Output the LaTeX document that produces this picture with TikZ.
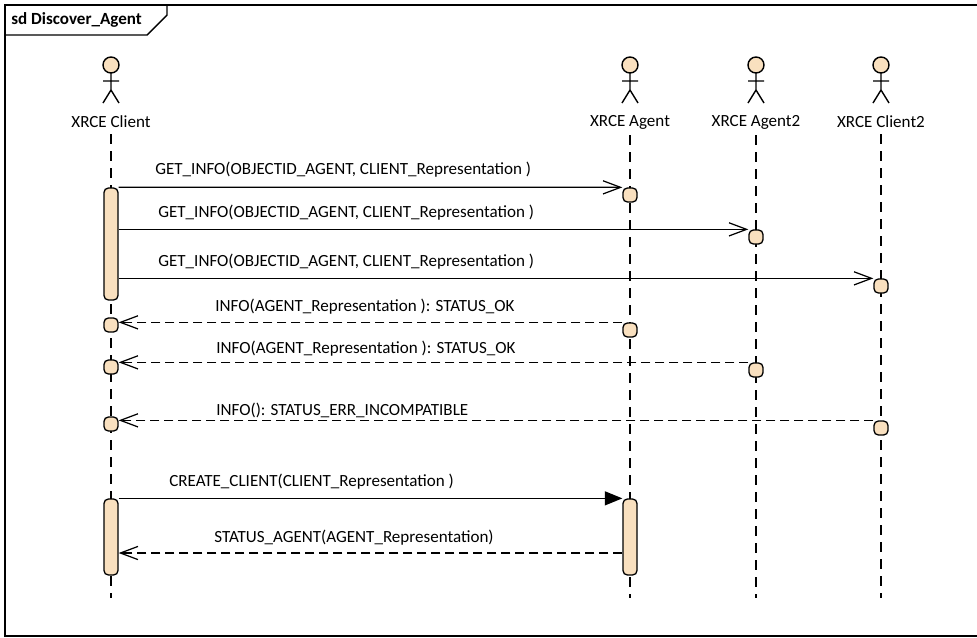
\documentclass[tikz,border=0pt]{standalone}
\usepackage{fontspec}
\setmainfont{Carlito}
\usepackage{xcolor}
\usepackage{tikz}
\usetikzlibrary{arrows.meta, positioning, calc}

\definecolor{actfill}{RGB}{249,224,191}

\tikzset{
    actbox/.style={draw, fill=actfill, line width=0.75pt, rounded corners=2.5pt, minimum width=0.28cm, minimum height=0.28cm, inner sep=0pt},
    lifeline/.style={line width=0.75pt, dash pattern=on 0.2cm off 0.14cm},
    call/.style={line width=0.7pt, -{Straight Barb[length=10pt, width=7.5pt]}},
    synccall/.style={line width=0.7pt, -{Triangle[length=10pt, width=8pt]}},
    reply/.style={line width=0.7pt, dash pattern=on 0.18cm off 0.1cm, -{Straight Barb[length=10pt, width=7.5pt]}},
    msglabel/.style={anchor=west, inner sep=0pt}
}

\begin{document}
\begin{tikzpicture}[x=0.02cm, y=-0.02cm, font=\fontsize{9.7}{11}\selectfont]
    \useasboundingbox (0,0) rectangle (977,637);

    % Frame
    \draw[line width=0.8pt] (977,5) -- (5,5) -- (5,636) -- (977,636);
    \draw[line width=0.8pt] (5,35) -- (147,35) -- (167,15) -- (167,5);
    \node[anchor=west, inner sep=0pt, font=\fontsize{9.7}{11}\selectfont\bfseries] (title) at (11,20) {sd Discover\_Agent};

    % Actors and lifelines
    \foreach \x/\n/\t in {111/cli/XRCE Client, 630/agt/XRCE Agent, 756/agt2/XRCE Agent2, 881/cli2/XRCE Client2} {
        \draw[line width=0.8pt, fill=actfill] (\x,65) circle[radius=8];
        \draw[line width=0.8pt] (\x,73) -- (\x,90) (\x-8,81) -- (\x+8,81) (\x-8,103) -- (\x,90) -- (\x+8,103);
        \node (lbl-\n) at (\x,122) {\t};
        \draw[lifeline] (lbl-\n.south) -- (\x,598);
    }

    % Execution boxes
    \node[actbox, minimum height=2.24cm] (k1) at (111,244) {};
    \node[actbox] (a1) at (630,195) {};
    \node[actbox] (b1) at (756,237) {};
    \node[actbox] (c1) at (881,286) {};

    \node[actbox] (k2) at (111,325) {};
    \node[actbox] (a2) at (630,330) {};
    \node[actbox] (k3) at (111,367) {};
    \node[actbox] (b2) at (756,370) {};
    \node[actbox] (k4) at (111,424) {};
    \node[actbox] (c2) at (881,428) {};

    \node[actbox, minimum height=1.52cm] (k5) at (111,537) {};
    \node[actbox, minimum height=1.52cm] (a3) at (630,537) {};

    % Messages
    \draw[call] (k1.north east) -- (a1.north west);
    \node[msglabel] (m1) at (155,170) {GET\_INFO(OBJECTID\_AGENT, CLIENT\_Representation )};

    \draw[call] (k1.east |- b1.north) -- (b1.north west);
    \node[msglabel] (m2) at (158,213) {GET\_INFO(OBJECTID\_AGENT, CLIENT\_Representation )};

    \draw[call] (k1.east |- c1.north) -- (c1.north west);
    \node[msglabel] (m3) at (158,262) {GET\_INFO(OBJECTID\_AGENT, CLIENT\_Representation )};

    \draw[reply] (a2.north west) -- (k2.east |- a2.north);
    \node[msglabel] (m4) at (215,307) {INFO(AGENT\_Representation ): STATUS\_OK};

    \draw[reply] (b2.north west) -- (k3.east |- b2.north);
    \node[msglabel] (m5) at (216,349) {INFO(AGENT\_Representation ): STATUS\_OK};

    \draw[reply] (c2.north west) -- (k4.east |- c2.north);
    \node[msglabel] (m6) at (216,410) {INFO(): STATUS\_ERR\_INCOMPATIBLE};

    \draw[synccall] (k5.north east) -- (a3.north west);
    \node[msglabel] (m7) at (169,482) {CREATE\_CLIENT(CLIENT\_Representation )};

    \draw[reply] ($(a3.west)+(0,16)$) -- ($(k5.east)+(0,16)$);
    \node[msglabel] (m8) at (214,538) {STATUS\_AGENT(AGENT\_Representation)};
\end{tikzpicture}
\end{document}
